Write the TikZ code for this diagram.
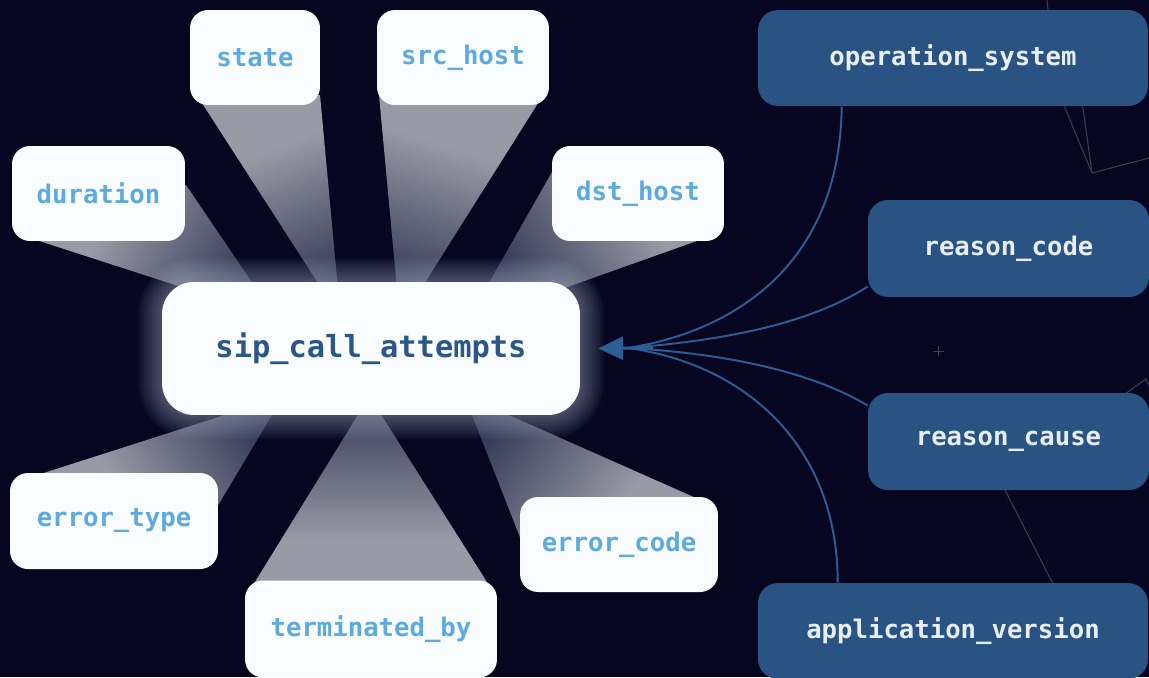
\documentclass[tikz,border=0pt]{standalone}
\usepackage{fontspec}
\setmonofont{DejaVu Sans Mono}
\usetikzlibrary{arrows.meta}

\definecolor{night}{RGB}{6,6,32}
\definecolor{beamgray}{RGB}{154,154,167}
\definecolor{beamdark}{RGB}{30,38,68}
\definecolor{paper}{RGB}{250,253,255}
\definecolor{skyblue}{RGB}{92,170,224}
\definecolor{inkblue}{RGB}{43,86,136}
\definecolor{steel}{RGB}{40,83,130}
\definecolor{linkblue}{RGB}{44,94,149}
\definecolor{faint}{RGB}{58,60,86}
\definecolor{snow}{RGB}{232,238,245}
\definecolor{halo}{RGB}{205,218,240}

\pgfdeclareverticalshading{beamfade}{100bp}{color(0bp)=(beamdark); color(15bp)=(beamdark); color(62bp)=(beamgray); color(100bp)=(beamgray)}

\begin{document}
\begin{tikzpicture}[x=0.02cm, y=-0.02cm,
    field/.style={draw=none, fill=paper, rounded corners=0.36cm, inner sep=0pt,
      text=skyblue, font=\ttfamily\bfseries\fontsize{14.6}{17}\selectfont},
    table/.style={draw=none, fill=paper, rounded corners=0.64cm, inner sep=0pt,
      text=inkblue, font=\ttfamily\bfseries\fontsize{17.3}{20}\selectfont},
    tag/.style={draw=none, fill=steel, rounded corners=0.4cm, inner sep=0pt,
      text=snow, font=\ttfamily\bfseries\fontsize{14.6}{17}\selectfont},
    beam/.style={shading=beamfade, draw=none},
    link/.style={draw=linkblue, line width=1.1pt},
    grid/.style={draw=faint, line width=0.6pt}]

  \fill[night] (0,0) rectangle (1149,677);
  \useasboundingbox (0,0) rectangle (1149,677);

  % faint lines in the back
  \draw[grid] (1047,0) -- (1053,60) -- (1065,108) -- (1092,173) -- (1149,158);
  \draw[grid] (1053,60) -- (1083,108) -- (1092,173);
  \draw[grid] (1125,394) -- (1146,379) -- (1149,386);
  \draw[grid] (1005,490) -- (1053,584);
  \draw[faint, line width=0.5pt] (933,351) -- (944,351) (938.5,346) -- (938.5,356);

  % light beams from the fields to the table
  \path[beam, shading angle=60]  (30,238) -- (186,185) -- (264,300) -- (200,293) -- cycle;
  \path[beam, shading angle=22]  (200,100) -- (320,95) -- (339,300) -- (329,300) -- cycle;
  \path[beam, shading angle=-18] (379,95) -- (540,100) -- (414,300) -- (398,300) -- cycle;
  \path[beam, shading angle=-60] (556,165) -- (722,232) -- (545,295) -- (482,295) -- cycle;
  \path[beam, shading angle=124] (28,478) -- (214,512) -- (278,405) -- (256,405) -- cycle;
  \path[beam, shading angle=180] (250,590) -- (492,590) -- (375,405) -- (364,405) -- cycle;
  \path[beam, shading angle=232] (523,545) -- (705,502) -- (486,405) -- (468,405) -- cycle;

  % glow round the table
  \foreach \g [evaluate=\g as \r using 0.64+0.04*\g] in {1,...,12}{
    \fill[halo, opacity=0.035, rounded corners=\r cm]
      ({162-2*\g},{282-2*\g}) rectangle ({580+2*\g},{415+2*\g});
  }

  \node[table, minimum width=8.36cm, minimum height=2.66cm] (calls) at (371,348.5) {sip\_call\_attempts};

  \node[field, minimum width=2.6cm,  minimum height=1.9cm]  (state)    at (255,57.5)  {state};
  \node[field, minimum width=3.44cm, minimum height=1.9cm]  (srchost)  at (463,57.5)  {src\_host};
  \node[field, minimum width=3.46cm, minimum height=1.9cm]  (duration) at (98.5,193.5) {duration};
  \node[field, minimum width=3.44cm, minimum height=1.9cm]  (dsthost)  at (638,193.5) {dst\_host};
  \node[field, minimum width=4.16cm, minimum height=1.92cm] (errtype)  at (114,521)   {error\_type};
  \node[field, minimum width=5.04cm, minimum height=1.94cm] (termby)   at (371,629)   {terminated\_by};
  \node[field, minimum width=3.96cm, minimum height=1.9cm]  (errcode)  at (619,544.5) {error\_code};

  \node[tag, minimum width=7.8cm,  minimum height=1.92cm] (opsys)  at (953,58)     {operation\_system};
  \node[tag, minimum width=5.62cm, minimum height=1.94cm] (rcode)  at (1008.5,248.5) {reason\_code};
  \node[tag, minimum width=5.62cm, minimum height=1.94cm] (rcause) at (1008.5,441.5) {reason\_cause};
  \node[tag, minimum width=7.8cm,  minimum height=1.92cm] (appver) at (953,631)    {application\_version};

  % dimensions pointing in
  \coordinate (fan) at (628,348);
  \draw[link] ([xshift=1.68cm]opsys.south west) .. controls (840,260) and (740,330) .. (fan);
  \draw[link] ([yshift=-0.76cm]rcode.west) .. controls (800,330) and (700,342) .. (fan);
  \draw[link] ([yshift=0.72cm]rcause.west) .. controls (800,365) and (700,352) .. (fan);
  \draw[link] ([xshift=1.6cm]appver.north west) .. controls (838,450) and (750,365) .. (fan);
  \draw[link, line width=1.7pt, shorten >=0.36cm, -{Triangle[length=14pt, width=13pt]}]
    ([xshift=0.5cm]fan) -- (calls.east);
\end{tikzpicture}
\end{document}
